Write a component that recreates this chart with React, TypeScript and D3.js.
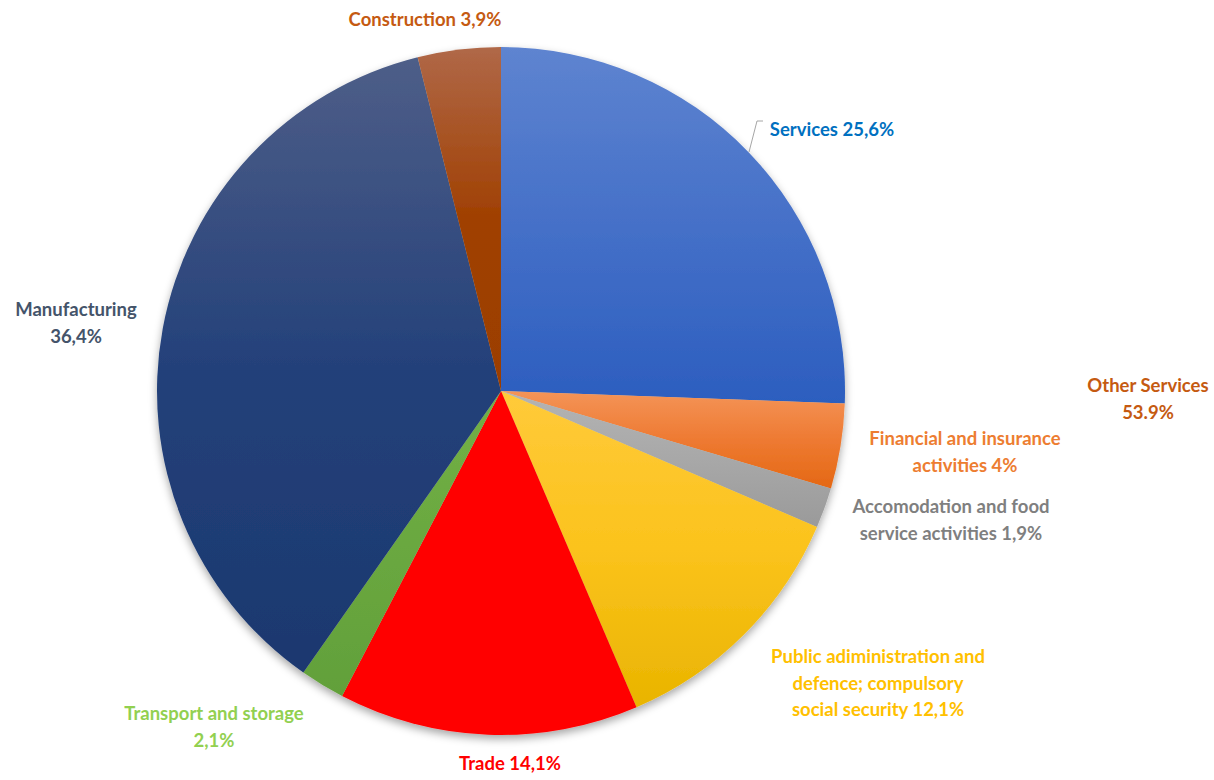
import React, { useEffect, useRef } from "react";
import * as d3 from "d3";

const sectors = [
  "Services",
  "Financial and insurance activities",
  "Accomodation and food service activities",
  "Public adiministration and defence; compulsory social security",
  "Trade",
  "Transport and storage",
  "Manufacturing",
  "Construction",
];
const shares = [25.6, 4, 1.9, 12.1, 14.1, 2.1, 36.4, 3.9];
const gradTop = ["#5E84D0", "#F49458", "#B4B4B4", "#FFCA3A", "#FF0000", "#72B046", "#4E5E88", "#B06848"];
const gradMid = ["#4570C8", "#EE7A32", "#A8A8A8", "#FBC31C", "#FF0000", "#6AA840", "#24417A", "#A04002"];
const gradBottom = ["#2C5EBF", "#E46814", "#9A9A9A", "#E9B400", "#FF0000", "#62A03A", "#1B386F", "#9B3E02"];

const labelLines = [
  ["Services 25,6%"],
  ["Financial and insurance", "activities 4%"],
  ["Accomodation and food", "service activities 1,9%"],
  ["Public adiministration and", "defence; compulsory", "social security 12,1%"],
  ["Trade 14,1%"],
  ["Transport and storage", "2,1%"],
  ["Manufacturing", "36,4%"],
  ["Construction 3,9%"],
];
const labelColors = ["#0070C0", "#ED7D31", "#7F7F7F", "#FFC000", "#FF0000", "#92D050", "#44546A", "#C55A11"];
const labelPos: [number, number][] = [
  [832, 130],
  [965, 439],
  [951, 507],
  [878, 657],
  [510, 764],
  [214, 714],
  [76, 310],
  [425, 20],
];

const otherLines = ["Other Services", "53.9%"];

export default function App() {
  const ref = useRef<SVGSVGElement>(null);

  useEffect(() => {
    const svg = d3.select(ref.current);
    svg.selectAll("*").remove();
    const cx = 501;
    const cy = 391;
    const radius = 344;

    const defs = svg.append("defs");
    const shadow = defs
      .append("filter")
      .attr("id", "shadow")
      .attr("x", "-10%")
      .attr("y", "-10%")
      .attr("width", "120%")
      .attr("height", "120%");
    shadow
      .append("feDropShadow")
      .attr("dx", 0)
      .attr("dy", 4)
      .attr("stdDeviation", 4)
      .attr("flood-color", "#000")
      .attr("flood-opacity", 0.35);

    // vertical gradients, lighter on top
    sectors.forEach((_, i) => {
      const g = defs
        .append("linearGradient")
        .attr("id", "grad" + i)
        .attr("x1", 0)
        .attr("y1", 0)
        .attr("x2", 0)
        .attr("y2", 1);
      g.append("stop").attr("offset", "0%").attr("stop-color", gradTop[i]);
      g.append("stop").attr("offset", "50%").attr("stop-color", gradMid[i]);
      g.append("stop").attr("offset", "100%").attr("stop-color", gradBottom[i]);
    });

    const pie = d3
      .pie<number>()
      .sort(null)
      .value((d) => d);
    const arc = d3.arc<d3.PieArcDatum<number>>().innerRadius(0).outerRadius(radius);

    const g = svg
      .append("g")
      .attr("transform", `translate(${cx},${cy})`)
      .attr("filter", "url(#shadow)");

    g.selectAll("path")
      .data(pie(shares))
      .enter()
      .append("path")
      .attr("d", arc)
      .attr("fill", (d, i) => `url(#grad${i})`);

    // leader line for Services
    svg
      .append("path")
      .attr("d", "M 763 121 L 757 121 L 749 152")
      .attr("fill", "none")
      .attr("stroke", "#A6A6A6")
      .attr("stroke-width", 1);

    const font = "Lato, 'Open Sans', sans-serif";
    const fontSize = 18.5;
    const lineH = 26.5;

    labelLines.forEach((lines, i) => {
      const [x, y] = labelPos[i];
      const t = svg
        .append("text")
        .attr("font-family", font)
        .attr("font-weight", 700)
        .attr("font-size", fontSize)
        .attr("fill", labelColors[i])
        .attr("text-anchor", "middle");
      lines.forEach((l, j) => {
        t.append("tspan")
          .attr("x", x)
          .attr("y", y + j * lineH)
          .attr("dy", "0.35em")
          .text(l);
      });
    });

    const ot = svg
      .append("text")
      .attr("font-family", font)
      .attr("font-weight", 700)
      .attr("font-size", fontSize)
      .attr("fill", "#C55A11")
      .attr("text-anchor", "middle");
    otherLines.forEach((l, j) => {
      ot.append("tspan")
        .attr("x", 1148)
        .attr("y", 386 + j * lineH)
        .attr("dy", "0.35em")
        .text(l);
    });
  }, []);

  return (
    <div style={{ position: "absolute", left: 0, top: 0 }}>
      <svg ref={ref} width={1214} height={780} style={{ display: "block", background: "#fff" }} />
    </div>
  );
}
